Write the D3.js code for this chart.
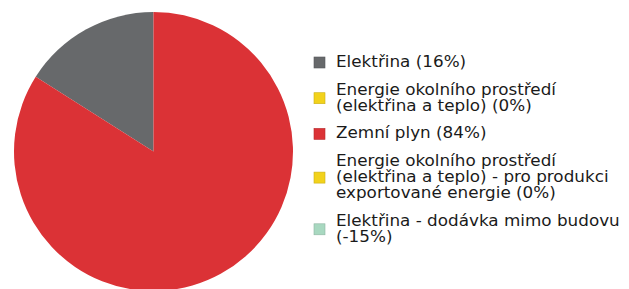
<!DOCTYPE html>
<html><head><meta charset="utf-8">
<script src="https://cdn.jsdelivr.net/npm/d3@7"></script>
<style>html,body{margin:0;padding:0;background:#fff;}svg{display:block;}</style>
</head><body>
<svg id="chart" width="629" height="289"></svg>
<script>
const labels = [
  ["Elektřina (16%)"],
  ["Energie okolního prostředí", "(elektřina a teplo) (0%)"],
  ["Zemní plyn (84%)"],
  ["Energie okolního prostředí", "(elektřina a teplo) - pro produkci", "exportované energie (0%)"],
  ["Elektřina - dodávka mimo budovu", "(-15%)"]
];
const values = [16, 0, 84, 0, -15];
const colors = ["#67696b", "#f2d21b", "#db3236", "#f2d21b", "#a8d8c0"];

const svg = d3.select("#chart");
const cx = 153.5, cy = 151.5, r = 139.5;

const pie = d3.pie().sort(null).value(d => Math.max(0, d)).startAngle(0).endAngle(-2 * Math.PI);
const arcs = pie(values);
const arc = d3.arc().innerRadius(0).outerRadius(r);
svg.append("g").attr("transform", `translate(${cx},${cy})`)
  .selectAll("path").data(arcs.filter(a => a.data > 0)).join("path")
  .attr("d", arc)
  .attr("fill", (d) => colors[d.index]);

// legend
const lineH = 16, gap = 11.7, fontSize = 16, stretch = 1.05;
let y = 67;
const lg = svg.append("g").attr("font-family", "DejaVu Sans").attr("font-size", fontSize).attr("fill", "#1a1a1a");
labels.forEach((lines, i) => {
  const baselines = lines.map((_, k) => y + k * lineH);
  const centerY = d3.mean(baselines) - 4.5;
  lg.append("rect").attr("x", 314).attr("y", centerY - 5.5).attr("width", 11).attr("height", 11)
    .attr("fill", colors[i]).attr("stroke", d3.color(colors[i]).darker(0.5)).attr("stroke-width", 0.6);
  lines.forEach((t, k) => {
    lg.append("text").attr("transform", `translate(336,${baselines[k]}) scale(${stretch},1)`).text(t);
  });
  y = baselines[baselines.length - 1] + lineH + gap;
});
</script>
</body></html>
